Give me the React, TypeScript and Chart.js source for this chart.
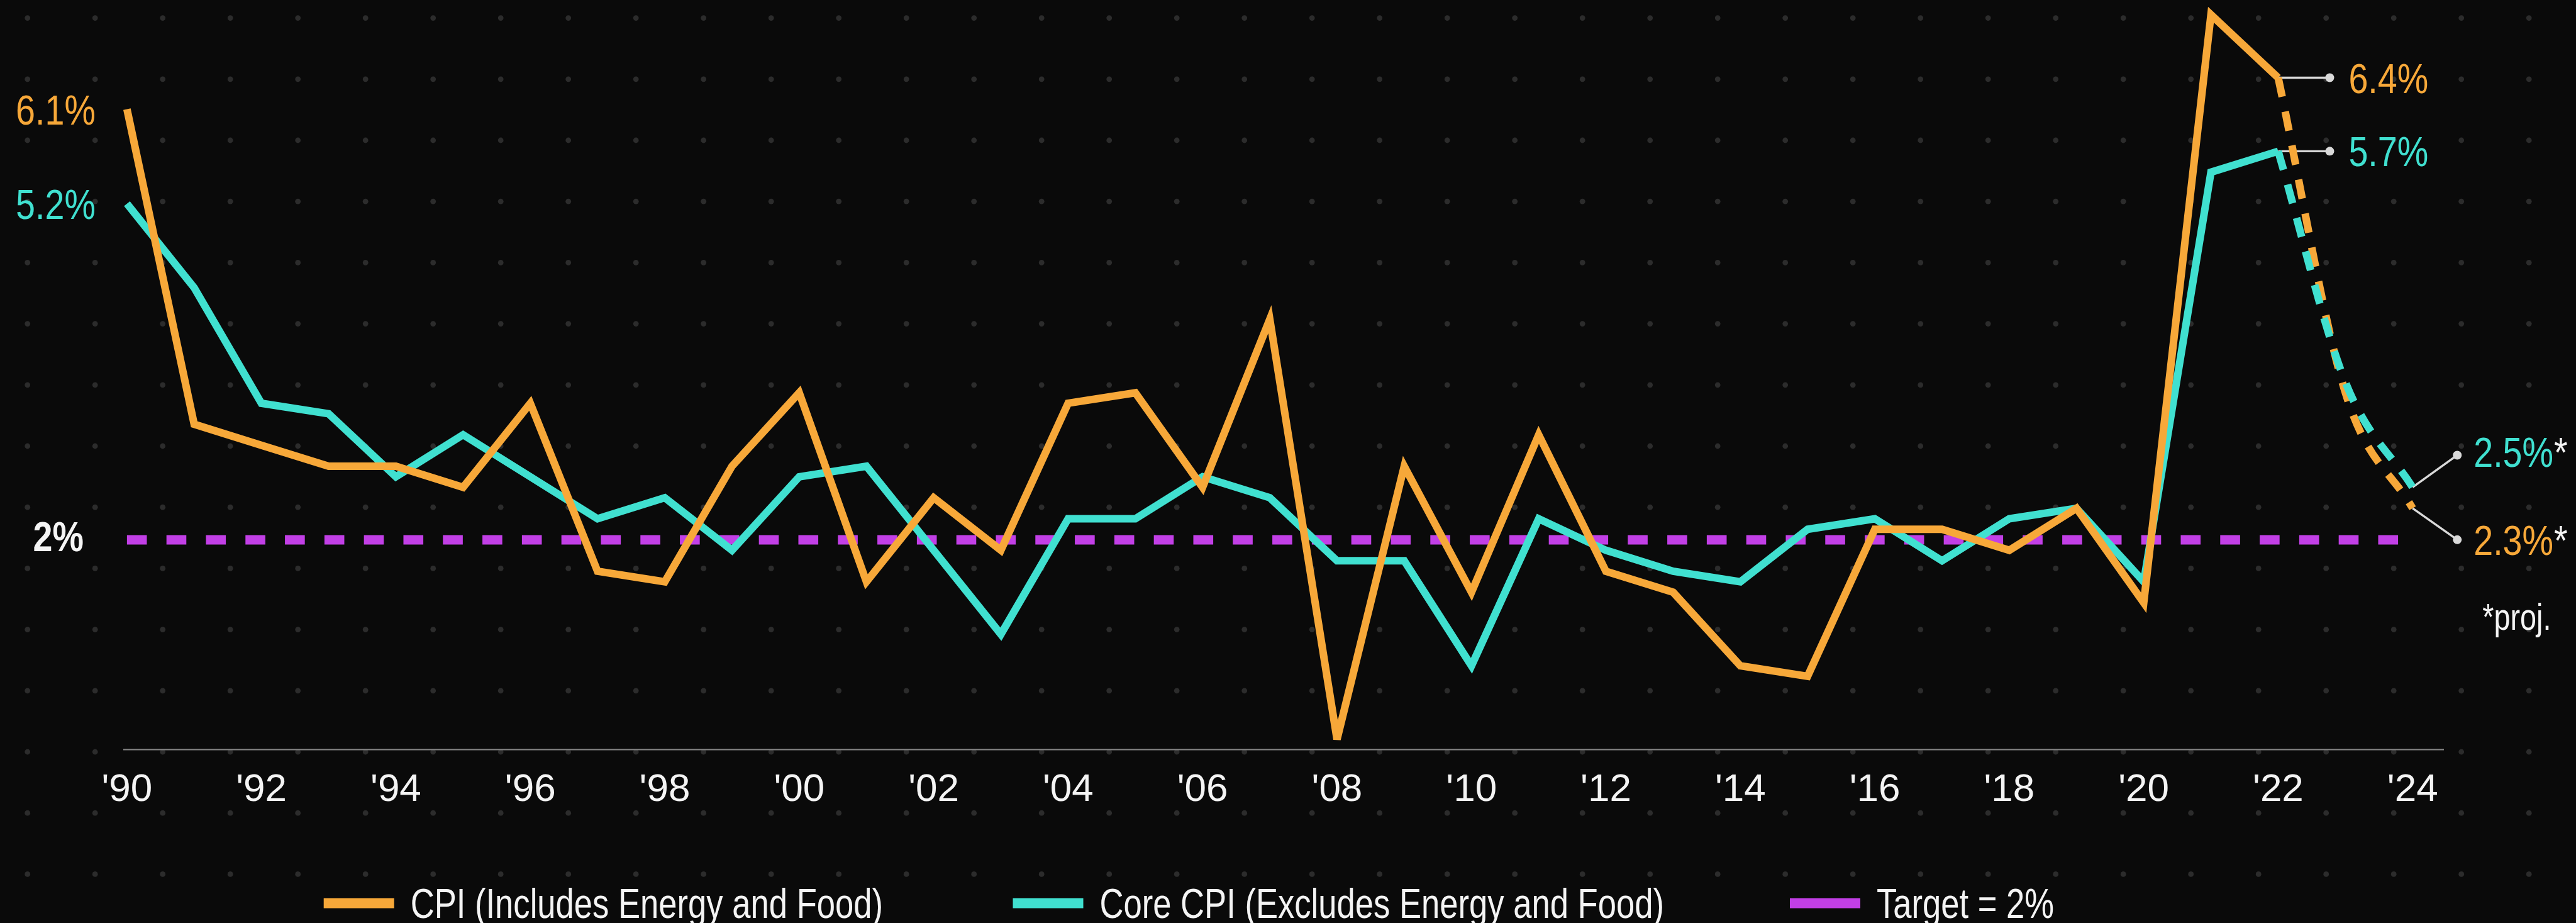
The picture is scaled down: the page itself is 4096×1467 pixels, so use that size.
import React, { useEffect, useRef } from "react";
import { Chart, registerables } from "chart.js";

Chart.register(...registerables);

// ---- data -----------------------------------------------------------------
const YEARS = [
  1990, 1991, 1992, 1993, 1994, 1995, 1996, 1997, 1998, 1999,
  2000, 2001, 2002, 2003, 2004, 2005, 2006, 2007, 2008, 2009,
  2010, 2011, 2012, 2013, 2014, 2015, 2016, 2017, 2018, 2019,
  2020, 2021, 2022,
];
const CPI = [
  6.1, 3.1, 2.9, 2.7, 2.7, 2.5, 3.3, 1.7, 1.6, 2.7,
  3.4, 1.6, 2.4, 1.9, 3.3, 3.4, 2.5, 4.1, 0.1, 2.7,
  1.5, 3.0, 1.7, 1.5, 0.8, 0.7, 2.1, 2.1, 1.9, 2.3,
  1.4, 7.0, 6.4,
];
const CORE_CPI = [
  5.2, 4.4, 3.3, 3.2, 2.6, 3.0, 2.6, 2.2, 2.4, 1.9,
  2.6, 2.7, 1.9, 1.1, 2.2, 2.2, 2.6, 2.4, 1.8, 1.8,
  0.8, 2.2, 1.9, 1.7, 1.6, 2.1, 2.2, 1.8, 2.2, 2.3,
  1.6, 5.5, 5.7,
];
const PROJECTION_YEARS = [2022, 2023, 2024];
const CPI_PROJECTION = [6.4, 3.4, 2.3];
const CORE_PROJECTION = [5.7, 3.5, 2.5];
const TARGET_YEARS = [1990, 2024];
const TARGET_RATE = 2;
const TICK_YEARS = [
  1990, 1992, 1994, 1996, 1998, 2000, 2002, 2004, 2006,
  2008, 2010, 2012, 2014, 2016, 2018, 2020, 2022, 2024,
];
const CPI_LABEL = "CPI (Includes Energy and Food)";
const CORE_LABEL = "Core CPI (Excludes Energy and Food)";
const TARGET_LABEL = "Target = 2%";
const PROJECTION_NOTE = "*proj.";

// ---- styling ----------------------------------------------------------------
const W = 4096;
const H = 1467;
const BG = "#0a0a0a";
const DOT = "#2c2c2c";
const ORANGE = "#f7a839";
const TEAL = "#40e0d0";
const PURPLE = "#c23fe6";
const WHITE = "#f4f4f4";
const AXIS = "#7d7d7d";
const CONNECTOR = "#d9d9d9";
const FONT = '"Liberation Sans", Arial, sans-serif';
const CAP = 0.716;
const LINE_W = 12;

const toPoints = (xs: number[], ys: number[]) => xs.map((x, i) => ({ x, y: ys[i] }));
const pct = (v: number) => `${v.toFixed(1)}%`;

// Dotted backdrop behind the whole canvas.
const backdropPlugin = {
  id: "dotBackdrop",
  beforeDraw(chart: any) {
    const { ctx, width, height } = chart;
    ctx.save();
    ctx.fillStyle = BG;
    ctx.fillRect(0, 0, width, height);
    ctx.fillStyle = DOT;
    for (let y = 28.6; y < height; y += 97.2) {
      for (let x = 43.7; x < width; x += 107.5) {
        ctx.beginPath();
        ctx.arc(x, y, 4.4, 0, Math.PI * 2);
        ctx.fill();
      }
    }
    ctx.restore();
  },
};

// Condensed text: the face is squeezed horizontally around its left edge.
function drawText(
  ctx: CanvasRenderingContext2D, s: string, x: number, cy: number, color: string,
  size: number, squeeze: number, align: "left" | "right" = "left", weight = "normal",
) {
  ctx.save();
  ctx.font = `${weight} ${size}px ${FONT}`;
  ctx.fillStyle = color;
  ctx.textAlign = "left";
  ctx.textBaseline = "alphabetic";
  const w = ctx.measureText(s).width * squeeze;
  const left = align === "right" ? x - w : x;
  ctx.translate(left, cy + (CAP * size) / 2);
  ctx.scale(squeeze, 1);
  ctx.fillText(s, 0, 0);
  ctx.restore();
  return w;
}

// Value call-outs, projection note and legend.
const annotationPlugin = {
  id: "inflationAnnotations",
  beforeDatasetsDraw(chart: any) {
    const { ctx } = chart;
    const xs = chart.scales.x;
    const ys = chart.scales.y;
    const connector = (x0: number, y0: number, x1: number, y1: number) => {
      ctx.strokeStyle = CONNECTOR;
      ctx.fillStyle = CONNECTOR;
      ctx.lineWidth = 3.4;
      ctx.beginPath();
      ctx.moveTo(x0, y0);
      ctx.lineTo(x1, y1);
      ctx.stroke();
      ctx.beginPath();
      ctx.arc(x1, y1, 7, 0, Math.PI * 2);
      ctx.fill();
    };
    ctx.save();
    const xl = xs.getPixelForValue(YEARS[YEARS.length - 1]);
    const xe = xs.getPixelForValue(PROJECTION_YEARS[PROJECTION_YEARS.length - 1]);
    const yc = ys.getPixelForValue(CPI[CPI.length - 1]);
    const yk = ys.getPixelForValue(CORE_CPI[CORE_CPI.length - 1]);
    connector(xl, yc, xl + 82, yc);
    connector(xl, yk, xl + 82, yk);
    const ycp = ys.getPixelForValue(CPI_PROJECTION[CPI_PROJECTION.length - 1]);
    const ykp = ys.getPixelForValue(CORE_PROJECTION[CORE_PROJECTION.length - 1]);
    connector(xe, ykp, xe + 71, ykp - 51);
    connector(xe, ycp, xe + 71, ycp + 50);
    ctx.restore();
    ctx.miterLimit = 4;
  },
  afterDraw(chart: any) {
    const { ctx } = chart;
    const xs = chart.scales.x;
    const ys = chart.scales.y;
    const LBL = 67;
    const SQ = 0.83;

    const x0 = xs.getPixelForValue(YEARS[0]);
    drawText(ctx, pct(CPI[0]), x0 - 50, ys.getPixelForValue(CPI[0]), ORANGE, LBL, SQ, "right");
    drawText(ctx, pct(CORE_CPI[0]), x0 - 50, ys.getPixelForValue(CORE_CPI[0]), TEAL, LBL, SQ, "right");
    drawText(ctx, `${TARGET_RATE}%`, x0 - 69, ys.getPixelForValue(TARGET_RATE) - 6, WHITE, LBL, SQ, "right", "bold");

    const xl = xs.getPixelForValue(YEARS[YEARS.length - 1]);
    const xe = xs.getPixelForValue(PROJECTION_YEARS[PROJECTION_YEARS.length - 1]);
    drawText(ctx, pct(CPI[CPI.length - 1]), xl + 112, ys.getPixelForValue(CPI[CPI.length - 1]), ORANGE, LBL, SQ);
    drawText(ctx, pct(CORE_CPI[CORE_CPI.length - 1]), xl + 112, ys.getPixelForValue(CORE_CPI[CORE_CPI.length - 1]), TEAL, LBL, SQ);

    const ycp = ys.getPixelForValue(CPI_PROJECTION[CPI_PROJECTION.length - 1]);
    const ykp = ys.getPixelForValue(CORE_PROJECTION[CORE_PROJECTION.length - 1]);
    const wk = drawText(ctx, pct(CORE_PROJECTION[CORE_PROJECTION.length - 1]), xe + 97, ykp - 56, TEAL, LBL, SQ);
    drawText(ctx, "*", xe + 98 + wk, ykp - 56, WHITE, LBL, SQ);
    const wc = drawText(ctx, pct(CPI_PROJECTION[CPI_PROJECTION.length - 1]), xe + 97, ycp + 50, ORANGE, LBL, SQ);
    drawText(ctx, "*", xe + 98 + wc, ycp + 50, WHITE, LBL, SQ);
    drawText(ctx, PROJECTION_NOTE, xe + 111, ycp + 172, WHITE, 58.5, 0.8);

    // legend
    const legend = [
      { label: CPI_LABEL, color: ORANGE, x: 514.7 },
      { label: CORE_LABEL, color: TEAL, x: 1610.5 },
      { label: TARGET_LABEL, color: PURPLE, x: 2846 },
    ];
    const ly = 1435.5;
    ctx.save();
    legend.forEach((item) => {
      ctx.fillStyle = item.color;
      ctx.fillRect(item.x, ly - 8, 112, 16);
      drawText(ctx, item.label, item.x + 138, ly, WHITE, 67, 0.785);
    });
    ctx.restore();
  },
};

export default function App() {
  const canvasRef = useRef<HTMLCanvasElement | null>(null);

  useEffect(() => {
    const canvas = canvasRef.current;
    if (!canvas) return;
    const chart = new Chart(canvas, {
      type: "line",
      data: {
        datasets: [
          {
            label: CPI_LABEL,
            data: toPoints(YEARS, CPI),
            borderColor: ORANGE,
            borderWidth: LINE_W,
            pointRadius: 0,
            tension: 0,
            clip: false,
            order: 3,
          },
          {
            label: CORE_LABEL,
            data: toPoints(YEARS, CORE_CPI),
            borderColor: TEAL,
            borderWidth: LINE_W,
            pointRadius: 0,
            tension: 0,
            clip: false,
            order: 4,
          },
          {
            label: TARGET_LABEL,
            data: toPoints(TARGET_YEARS, [TARGET_RATE, TARGET_RATE]),
            borderColor: PURPLE,
            borderWidth: 15,
            borderDash: [31.6, 31.2],
            pointRadius: 0,
            clip: false,
            order: 5,
          },
          {
            label: `${CPI_LABEL} projection`,
            data: toPoints(PROJECTION_YEARS, CPI_PROJECTION),
            borderColor: ORANGE,
            borderWidth: LINE_W,
            borderDash: [31, 24],
            cubicInterpolationMode: "monotone",
            pointRadius: 0,
            clip: false,
            order: 2,
          },
          {
            label: `${CORE_LABEL} projection`,
            data: toPoints(PROJECTION_YEARS, CORE_PROJECTION),
            borderColor: TEAL,
            borderWidth: LINE_W,
            borderDash: [31, 24],
            cubicInterpolationMode: "monotone",
            pointRadius: 0,
            clip: false,
            order: 1,
          },
        ],
      },
      options: {
        responsive: false,
        animation: false,
        devicePixelRatio: 1,
        events: [],
        layout: { padding: { left: 197.6, right: 210.6, top: 6.7, bottom: 175.3 } },
        plugins: { legend: { display: false }, tooltip: { enabled: false } },
        scales: {
          x: {
            type: "linear",
            min: 1989.96,
            max: 2024.46,
            grid: { display: false, drawTicks: false },
            border: { display: true, color: AXIS, width: 2.5 },
            afterBuildTicks: (axis: any) => {
              axis.ticks = TICK_YEARS.map((value) => ({ value }));
            },
            afterFit: (axis: any) => {
              axis.height = 100;
            },
            ticks: {
              color: WHITE,
              font: { family: FONT, size: 62 },
              padding: 27,
              maxRotation: 0,
              autoSkip: false,
              callback: (v: any) => `'${String(v).slice(2)}`,
            },
          },
          y: { display: false, min: 0, max: 7.1 },
        },
      },
      plugins: [backdropPlugin, annotationPlugin],
    } as any);
    return () => chart.destroy();
  }, []);

  return (
    <div style={{ position: "fixed", left: 0, top: 0, width: W, height: H, background: BG }}>
      <canvas ref={canvasRef} width={W} height={H} style={{ display: "block", width: W, height: H }} />
    </div>
  );
}
